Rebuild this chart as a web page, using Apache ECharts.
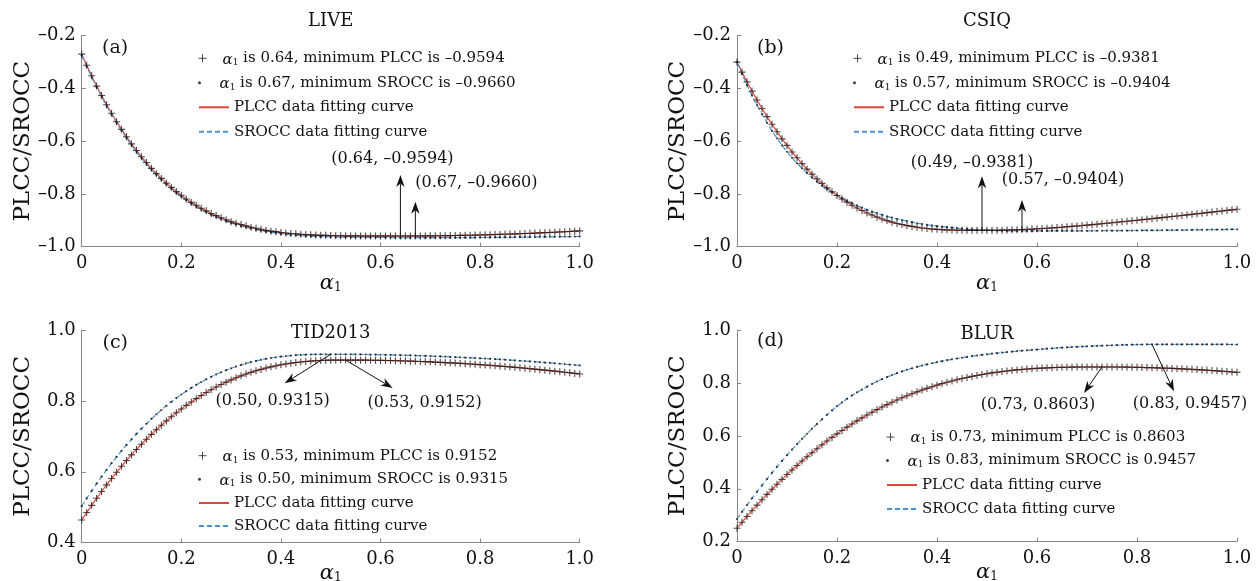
<!DOCTYPE html>
<html>
<head>
<meta charset="utf-8">
<script src="https://cdn.jsdelivr.net/npm/echarts/dist/echarts.min.js"></script>
<style>
html,body{margin:0;padding:0;background:#fff;}
#chart{width:1258px;height:581px;}
</style>
</head>
<body>
<div id="chart"></div>
<script>
// weighting coefficient alpha_1 sampled on [0, 1]
const alpha = [
0,0.01,0.02,0.03,0.04,0.05,0.06,0.07,0.08,0.09,
0.1,0.11,0.12,0.13,0.14,0.15,0.16,0.17,0.18,0.19,
0.2,0.21,0.22,0.23,0.24,0.25,0.26,0.27,0.28,0.29,
0.3,0.31,0.32,0.33,0.34,0.35,0.36,0.37,0.38,0.39,
0.4,0.41,0.42,0.43,0.44,0.45,0.46,0.47,0.48,0.49,
0.5,0.51,0.52,0.53,0.54,0.55,0.56,0.57,0.58,0.59,
0.6,0.61,0.62,0.63,0.64,0.65,0.66,0.67,0.68,0.69,
0.7,0.71,0.72,0.73,0.74,0.75,0.76,0.77,0.78,0.79,
0.8,0.81,0.82,0.83,0.84,0.85,0.86,0.87,0.88,0.89,
0.9,0.91,0.92,0.93,0.94,0.95,0.96,0.97,0.98,0.99,1
];

// LIVE
const liveP = [
-0.270,-0.312,-0.352,-0.391,-0.427,-0.462,-0.494,-0.526,-0.555,-0.583,
-0.610,-0.635,-0.659,-0.681,-0.703,-0.723,-0.741,-0.759,-0.775,-0.791,
-0.805,-0.819,-0.832,-0.843,-0.854,-0.864,-0.874,-0.882,-0.890,-0.898,
-0.905,-0.911,-0.916,-0.921,-0.926,-0.930,-0.934,-0.938,-0.941,-0.943,
-0.946,-0.948,-0.950,-0.951,-0.953,-0.954,-0.955,-0.956,-0.957,-0.957,
-0.9578,-0.9582,-0.9585,-0.9588,-0.9590,-0.9591,-0.9592,-0.9593,-0.9593,-0.9593,
-0.9593,-0.9593,-0.9593,-0.9593,-0.9594,-0.9593,-0.9593,-0.9593,-0.9592,-0.9590,
-0.9589,-0.9587,-0.9584,-0.9582,-0.9579,-0.9576,-0.9572,-0.9569,-0.9565,-0.9560,
-0.9556,-0.9551,-0.9545,-0.9540,-0.9534,-0.9528,-0.9521,-0.9515,-0.9508,-0.9500,
-0.9493,-0.9485,-0.9476,-0.9468,-0.9459,-0.9450,-0.9440,-0.9431,-0.9421,-0.9410,-0.9400
];
const liveS = [
-0.275,-0.317,-0.357,-0.396,-0.432,-0.467,-0.499,-0.531,-0.560,-0.588,
-0.615,-0.640,-0.664,-0.686,-0.708,-0.728,-0.746,-0.764,-0.780,-0.796,
-0.810,-0.824,-0.837,-0.848,-0.859,-0.869,-0.879,-0.887,-0.895,-0.903,
-0.910,-0.916,-0.921,-0.926,-0.931,-0.935,-0.939,-0.943,-0.946,-0.948,
-0.951,-0.953,-0.955,-0.956,-0.958,-0.959,-0.960,-0.961,-0.962,-0.962,
-0.9628,-0.9632,-0.9635,-0.9638,-0.9640,-0.9641,-0.9642,-0.9643,-0.9643,-0.9644,
-0.9644,-0.9648,-0.9652,-0.9655,-0.9657,-0.9659,-0.9659,-0.9660,-0.9659,-0.9659,
-0.9659,-0.9659,-0.9659,-0.9658,-0.9658,-0.9657,-0.9656,-0.9655,-0.9654,-0.9653,
-0.9652,-0.9651,-0.9650,-0.9648,-0.9647,-0.9645,-0.9643,-0.9642,-0.9640,-0.9638,
-0.9636,-0.9634,-0.9631,-0.9629,-0.9627,-0.9624,-0.9621,-0.9619,-0.9616,-0.9613,-0.9610
];

// CSIQ
const csiqP = [
-0.300,-0.338,-0.375,-0.410,-0.444,-0.476,-0.507,-0.536,-0.564,-0.591,
-0.616,-0.641,-0.663,-0.685,-0.706,-0.725,-0.743,-0.760,-0.777,-0.792,
-0.806,-0.819,-0.831,-0.843,-0.853,-0.863,-0.872,-0.880,-0.888,-0.895,
-0.901,-0.907,-0.912,-0.916,-0.920,-0.923,-0.926,-0.929,-0.931,-0.933,
-0.9342,-0.9353,-0.9362,-0.9369,-0.9374,-0.9378,-0.9380,-0.9380,-0.9380,-0.9381,
-0.9380,-0.9378,-0.9376,-0.9372,-0.9368,-0.9362,-0.9356,-0.9349,-0.9341,-0.9332,
-0.9322,-0.9312,-0.9300,-0.9288,-0.9274,-0.9260,-0.9245,-0.9230,-0.9214,-0.9198,
-0.9181,-0.9164,-0.9146,-0.9128,-0.9110,-0.9092,-0.9073,-0.9054,-0.9036,-0.9016,
-0.8997,-0.8977,-0.8957,-0.8938,-0.8917,-0.8897,-0.8876,-0.8856,-0.8835,-0.8815,
-0.8794,-0.8773,-0.8752,-0.8730,-0.8709,-0.8688,-0.8666,-0.8645,-0.8624,-0.8602,-0.8581
];
const csiqS = [
-0.300,-0.345,-0.388,-0.427,-0.463,-0.497,-0.530,-0.561,-0.589,-0.616,
-0.640,-0.663,-0.684,-0.703,-0.721,-0.738,-0.753,-0.768,-0.781,-0.793,
-0.805,-0.816,-0.826,-0.835,-0.844,-0.852,-0.860,-0.867,-0.873,-0.879,
-0.885,-0.890,-0.895,-0.899,-0.903,-0.907,-0.911,-0.914,-0.917,-0.919,
-0.922,-0.924,-0.926,-0.928,-0.930,-0.932,-0.9334,-0.9346,-0.9357,-0.9367,
-0.9375,-0.9383,-0.9389,-0.9394,-0.9398,-0.9401,-0.9403,-0.9404,-0.9403,-0.9403,
-0.9403,-0.9403,-0.9403,-0.9403,-0.9402,-0.9402,-0.9401,-0.9401,-0.9400,-0.9399,
-0.9398,-0.9397,-0.9396,-0.9395,-0.9394,-0.9393,-0.9392,-0.9390,-0.9389,-0.9387,
-0.9386,-0.9384,-0.9382,-0.9381,-0.9379,-0.9377,-0.9375,-0.9373,-0.9371,-0.9369,
-0.9366,-0.9364,-0.9362,-0.9359,-0.9357,-0.9354,-0.9351,-0.9349,-0.9346,-0.9343,-0.9340
];

// TID2013
const tidP = [
0.4640,0.4850,0.5054,0.5252,0.5444,0.5630,0.5811,0.5986,0.6155,0.6319,
0.6477,0.6630,0.6777,0.6919,0.7056,0.7188,0.7315,0.7436,0.7553,0.7665,
0.7772,0.7874,0.7971,0.8064,0.8153,0.8237,0.8316,0.8392,0.8463,0.8529,
0.8592,0.8651,0.8706,0.8757,0.8805,0.8849,0.8889,0.8926,0.8960,0.8990,
0.9018,0.9042,0.9063,0.9082,0.9098,0.9112,0.9123,0.9133,0.9140,0.9145,
0.9149,0.9151,0.9151,0.9152,0.9151,0.9151,0.9150,0.9149,0.9148,0.9146,
0.9143,0.9141,0.9138,0.9134,0.9131,0.9126,0.9122,0.9117,0.9112,0.9107,
0.9101,0.9094,0.9088,0.9081,0.9074,0.9066,0.9058,0.9050,0.9041,0.9032,
0.9023,0.9013,0.9003,0.8992,0.8981,0.8970,0.8959,0.8947,0.8935,0.8922,
0.8909,0.8896,0.8882,0.8868,0.8854,0.8839,0.8824,0.8808,0.8793,0.8776,0.8760
];
const tidS = [
0.5030,0.5249,0.5462,0.5667,0.5865,0.6057,0.6242,0.6420,0.6592,0.6757,
0.6916,0.7069,0.7216,0.7356,0.7491,0.7620,0.7743,0.7860,0.7972,0.8079,
0.8180,0.8275,0.8366,0.8452,0.8532,0.8608,0.8679,0.8746,0.8808,0.8866,
0.8919,0.8969,0.9014,0.9056,0.9094,0.9128,0.9159,0.9186,0.9210,0.9231,
0.9250,0.9265,0.9278,0.9289,0.9298,0.9304,0.9309,0.9312,0.9314,0.9314,
0.9315,0.9314,0.9314,0.9314,0.9313,0.9312,0.9310,0.9309,0.9307,0.9305,
0.9302,0.9300,0.9297,0.9294,0.9290,0.9287,0.9283,0.9279,0.9274,0.9270,
0.9265,0.9259,0.9254,0.9248,0.9242,0.9236,0.9230,0.9223,0.9216,0.9209,
0.9202,0.9194,0.9186,0.9178,0.9169,0.9161,0.9152,0.9143,0.9133,0.9123,
0.9113,0.9103,0.9093,0.9082,0.9071,0.9060,0.9048,0.9037,0.9025,0.9012,0.9000
];

// BLUR
const blurP = [
0.2506,0.2733,0.2954,0.3171,0.3381,0.3587,0.3787,0.3982,0.4172,0.4357,
0.4537,0.4712,0.4882,0.5048,0.5208,0.5364,0.5515,0.5662,0.5804,0.5942,
0.6075,0.6204,0.6329,0.6449,0.6566,0.6678,0.6786,0.6891,0.6991,0.7088,
0.7181,0.7270,0.7355,0.7437,0.7516,0.7591,0.7662,0.7730,0.7795,0.7857,
0.7916,0.7972,0.8025,0.8074,0.8122,0.8166,0.8207,0.8246,0.8283,0.8317,
0.8348,0.8378,0.8405,0.8430,0.8453,0.8473,0.8492,0.8509,0.8524,0.8538,
0.8550,0.8560,0.8570,0.8577,0.8584,0.8589,0.8593,0.8597,0.8599,0.8601,
0.8602,0.8602,0.8602,0.8603,0.8602,0.8602,0.8601,0.8599,0.8596,0.8593,
0.8589,0.8585,0.8580,0.8575,0.8569,0.8563,0.8556,0.8548,0.8540,0.8532,
0.8523,0.8513,0.8503,0.8492,0.8480,0.8468,0.8456,0.8443,0.8429,0.8415,0.8400
];
const blurS = [
0.2858,0.3125,0.3386,0.3640,0.3888,0.4130,0.4369,0.4603,0.4831,0.5053,
0.5270,0.5480,0.5685,0.5885,0.6080,0.6270,0.6449,0.6623,0.6793,0.6959,
0.7120,0.7265,0.7400,0.7525,0.7642,0.7750,0.7858,0.7959,0.8053,0.8140,
0.8221,0.8297,0.8368,0.8434,0.8495,0.8552,0.8605,0.8654,0.8700,0.8743,
0.8783,0.8822,0.8858,0.8892,0.8923,0.8952,0.8982,0.9010,0.9036,0.9060,
0.9082,0.9105,0.9126,0.9146,0.9165,0.9182,0.9200,0.9217,0.9233,0.9248,
0.9262,0.9278,0.9293,0.9307,0.9320,0.9332,0.9343,0.9354,0.9364,0.9373,
0.9382,0.9391,0.9400,0.9408,0.9415,0.9422,0.9429,0.9435,0.9440,0.9444,
0.9448,0.9452,0.9455,0.9457,0.9456,0.9456,0.9456,0.9456,0.9456,0.9455,
0.9455,0.9455,0.9455,0.9454,0.9454,0.9454,0.9453,0.9453,0.9453,0.9452,0.9452
];

// panel headings and axis ranges
const titles = ['LIVE', 'CSIQ', 'TID2013', 'BLUR'];
const tags = ['(a)', '(b)', '(c)', '(d)'];
const yMin = [-1.0, -1.0, 0.4, 0.2];
const yMax = [-0.2, -0.2, 1.0, 1.0];

// optimum alpha_1 and the extreme correlation reached there
const bestAlphaP = [0.64, 0.49, 0.53, 0.73];
const bestP = [-0.9594, -0.9381, 0.9152, 0.8603];
const bestAlphaS = [0.67, 0.57, 0.50, 0.83];
const bestS = [-0.9660, -0.9404, 0.9315, 0.9457];

const plccSets = [liveP, csiqP, tidP, blurP];
const sroccSets = [liveS, csiqS, tidS, blurS];

// ---------- layout and styling ----------
const FONT = 'DejaVu Serif';
const RED = '#e0453a';
const BLUE = '#4a92d4';
const INK = '#111111';
const AXIS = '#858585';
const PLUS = 'path://M4,0L4,8M0,4L8,4';

const grids = [
  {left: 81.7, top: 35.7, width: 498, height: 211},
  {left: 737, top: 35.7, width: 500, height: 211},
  {left: 81.7, top: 330, width: 498, height: 212.7},
  {left: 737, top: 330, width: 500, height: 211.7}
];
const xNameGap = [23, 23, 17, 17];
const titleY = [21.7, 21.7, 333.3, 334.5];
const tagY = [48.3, 48.3, 343.3, 341];
const legendBox = [
  {left: 198, rows: [58.3, 82.8, 107.3, 131.7]},
  {left: 853, rows: [58.3, 82.8, 107.3, 131.7]},
  {left: 198, rows: [455.7, 479.3, 503, 526]},
  {left: 886, rows: [437, 460.5, 485, 509]}
];
// arrow tip offsets (px) from the marked point, and label centre offsets from the tip
const arrowP = [[0, -61], [0, -54], [47, 28], [-18, 26]];
const arrowS = [[0, -36], [0, -31], [-46, 29], [22, 47]];
const labelP = [[-8, -16], [-10, -14], [32, 15], [-46, 12]];
const labelS = [[61, -19], [41, -20], [-12, 18], [16, 12]];

const fmt = v => (v < 0 ? '–' : '') + Math.abs(v).toFixed(4);
const nameP = i => 'α1 is ' + bestAlphaP[i].toFixed(2) + ', minimum PLCC is ' + fmt(bestP[i]);
const nameS = i => 'α1 is ' + bestAlphaS[i].toFixed(2) + ', minimum SROCC is ' + fmt(bestS[i]);
const pairs = arr => alpha.map((a, k) => [a, arr[k]]);
const richName = n => n.indexOf('α1') === 0 ? n.replace('α1', '{a|α}{s|1}') : n;

const legendRich = {
  a: {fontFamily: FONT, fontStyle: 'italic', fontSize: 15, lineHeight: 18, color: INK, verticalAlign: 'bottom'},
  s: {fontFamily: FONT, fontSize: 9, lineHeight: 8, color: INK, verticalAlign: 'bottom'}
};
const axisNameRich = {
  a: {fontFamily: FONT, fontStyle: 'italic', fontSize: 21, lineHeight: 24, color: INK, verticalAlign: 'bottom'},
  s: {fontFamily: FONT, fontSize: 12, lineHeight: 10, color: INK, verticalAlign: 'bottom'}
};

const xAxes = grids.map((g, i) => ({
  gridIndex: i, type: 'value', min: 0, max: 1, interval: 0.2,
  name: '{a|α}{s|1}', nameLocation: 'middle', nameGap: xNameGap[i], nameMoveOverlap: false,
  nameTextStyle: {rich: axisNameRich, verticalAlign: 'top'},
  axisLine: {lineStyle: {color: AXIS, width: 1}},
  axisTick: {inside: true, length: 4, lineStyle: {color: AXIS}},
  axisLabel: {color: INK, fontFamily: FONT, fontSize: 18, margin: 8,
    formatter: v => v === 0 ? '0' : v.toFixed(1)},
  splitLine: {show: false}
}));
const yAxes = grids.map((g, i) => ({
  gridIndex: i, type: 'value', min: yMin[i], max: yMax[i], interval: 0.2,
  name: 'PLCC/SROCC', nameLocation: 'middle', nameGap: 47,
  nameTextStyle: {fontFamily: FONT, fontSize: 23, color: INK},
  axisLine: {show: true, lineStyle: {color: AXIS, width: 1}},
  axisTick: {show: true, inside: true, length: 4, lineStyle: {color: AXIS}},
  axisLabel: {color: INK, fontFamily: FONT, fontSize: 18, margin: 6,
    formatter: v => (v < -1e-9 ? '–' : '') + Math.abs(v).toFixed(1)},
  splitLine: {show: false}
}));

const series = [];
const legends = [];
for (let i = 0; i < 4; i++) {
  series.push({
    type: 'line', name: 'PLCC data fitting curve', xAxisIndex: i, yAxisIndex: i,
    data: pairs(plccSets[i]), symbol: 'none', silent: true, z: 2,
    lineStyle: {color: RED, width: 1.2}, itemStyle: {color: RED}
  });
  series.push({
    type: 'line', name: 'SROCC data fitting curve', xAxisIndex: i, yAxisIndex: i,
    data: pairs(sroccSets[i]), symbol: 'none', silent: true, z: 2,
    lineStyle: {color: BLUE, width: 1.2, type: [5, 3]}, itemStyle: {color: BLUE}
  });
  series.push({
    type: 'scatter', name: nameP(i), xAxisIndex: i, yAxisIndex: i,
    data: pairs(plccSets[i]), symbol: PLUS, symbolSize: 7, silent: true, z: 3,
    itemStyle: {color: 'rgba(0,0,0,0)', borderColor: '#241c1c', borderWidth: 1.1}
  });
  series.push({
    type: 'scatter', name: nameS(i), xAxisIndex: i, yAxisIndex: i,
    data: pairs(sroccSets[i]), symbol: 'circle', symbolSize: 2.2, silent: true, z: 3,
    itemStyle: {color: '#111111'}
  });

  const L = legendBox[i];
  const common = {
    padding: 0, selectedMode: false, itemWidth: 30, left: L.left,
    textStyle: {fontFamily: FONT, fontSize: 15, color: INK, lineHeight: 18, rich: legendRich},
    formatter: richName
  };
  legends.push(Object.assign({}, common, {
    top: L.rows[0] - 9, itemHeight: 8, data: [nameP(i)], itemStyle: {borderWidth: 1}
  }));
  legends.push(Object.assign({}, common, {
    top: L.rows[1] - 9, itemHeight: 3, data: [nameS(i)]
  }));
  legends.push(Object.assign({}, common, {
    top: L.rows[2] - 9, orient: 'vertical', itemHeight: 12,
    itemGap: L.rows[3] - L.rows[2] - 18,
    data: ['PLCC data fitting curve', 'SROCC data fitting curve'],
    itemStyle: {color: 'rgba(0,0,0,0)', borderWidth: 0}
  }));
}

const chart = echarts.init(document.getElementById('chart'));
chart.setOption({
  animation: false,
  backgroundColor: '#ffffff',
  textStyle: {fontFamily: FONT},
  grid: grids.map(g => Object.assign({outerBoundsMode: 'none', containLabel: false}, g)),
  xAxis: xAxes,
  yAxis: yAxes,
  legend: legends,
  series: series
});

// headings, arrows and point labels
function textEl(str, x, y, size) {
  return {type: 'text', x: x, y: y, silent: true, z: 20,
    style: {text: str, fill: INK, font: size + 'px "' + FONT + '"', align: 'center', verticalAlign: 'middle'}};
}
function arrowEls(p0, p1) {
  const dx = p1[0] - p0[0], dy = p1[1] - p0[1];
  const len = Math.hypot(dx, dy), ux = dx / len, uy = dy / len;
  const hl = 12, hw = 4.2, notch = 3.5;
  const bx = p1[0] - ux * hl, by = p1[1] - uy * hl;
  const nx = -uy, ny = ux;
  const nb = [p1[0] - ux * (hl - notch), p1[1] - uy * (hl - notch)];
  return [
    {type: 'line', silent: true, z: 20, shape: {x1: p0[0], y1: p0[1], x2: nb[0], y2: nb[1]},
      style: {stroke: INK, lineWidth: 1}},
    {type: 'polygon', silent: true, z: 20,
      shape: {points: [[p1[0], p1[1]], [bx + nx * hw, by + ny * hw], nb, [bx - nx * hw, by - ny * hw]]},
      style: {fill: INK}}
  ];
}
const pointLabel = (a, v) => '(' + a.toFixed(2) + ', ' + fmt(v) + ')';

const els = [];
for (let i = 0; i < 4; i++) {
  const g = grids[i];
  els.push(textEl(titles[i], g.left + g.width / 2, titleY[i], 18));
  els.push(textEl(tags[i], g.left + 33.5, tagY[i], 19));
  const pp = chart.convertToPixel({gridIndex: i}, [bestAlphaP[i], bestP[i]]);
  const tp = [pp[0] + arrowP[i][0], pp[1] + arrowP[i][1]];
  arrowEls(pp, tp).forEach(e => els.push(e));
  els.push(textEl(pointLabel(bestAlphaP[i], bestP[i]), tp[0] + labelP[i][0], tp[1] + labelP[i][1], 16));
  const ps = chart.convertToPixel({gridIndex: i}, [bestAlphaS[i], bestS[i]]);
  const ts = [ps[0] + arrowS[i][0], ps[1] + arrowS[i][1]];
  arrowEls(ps, ts).forEach(e => els.push(e));
  els.push(textEl(pointLabel(bestAlphaS[i], bestS[i]), ts[0] + labelS[i][0], ts[1] + labelS[i][1], 16));
}
chart.setOption({graphic: {elements: els}});
</script>
</body>
</html>
